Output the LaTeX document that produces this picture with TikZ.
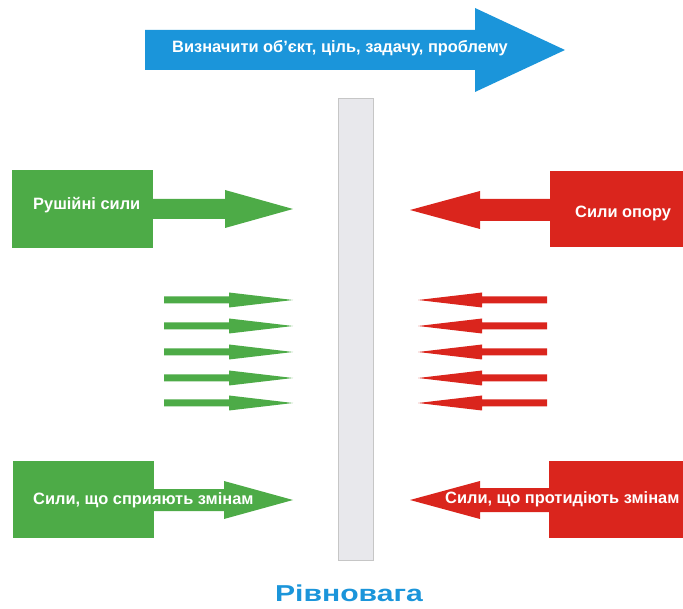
\documentclass[tikz,border=0pt]{standalone}
\usepackage{fontspec}
\setmainfont{Liberation Sans}
\definecolor{goalblue}{HTML}{1B95DA}
\definecolor{drivegreen}{HTML}{4DAB47}
\definecolor{resistred}{HTML}{DA251D}
\definecolor{barfill}{HTML}{E8E8EC}

% arrow: tail x, head base x, tip x, mid y, shaft half, head half, colour
\NewDocumentCommand{\forcearrow}{mmmmmmO{drivegreen}}{%
\fill[#7] (#1,#4-#5) -- (#2,#4-#5) -- (#2,#4-#6) -- (#3,#4)
    -- (#2,#4+#6) -- (#2,#4+#5) -- (#1,#4+#5) -- cycle;%
}
% block behind the arrow tail
\NewDocumentCommand{\forcebox}{mmmmO{drivegreen}}{%
\fill[#5] (#1,#2) rectangle (#3,#4);%
}

\tikzset{
  forcetext/.style={text=white, font=\bfseries\fontsize{16.4}{19}\selectfont,
    inner sep=0pt, anchor=west},
}

\begin{document}
\begin{tikzpicture}[x=1pt, y=-1pt]
        \useasboundingbox (0,0) rectangle (683,609);

        % Goal.
        \forcearrow{145}{475}{565}{50}{20}{42}[goalblue]
        \node[forcetext] (goal) at (172,48) {Визначити об'єкт, ціль, задачу, проблему};

        % Equilibrium bar.
        \filldraw[fill=barfill, draw=gray!45, line width=0.8pt] (338,98) rectangle (373,560);

        % Driving forces.
        \forcebox{12}{170}{153}{248}
        \forcearrow{150}{225}{293}{209}{10}{19}
        \node[forcetext] (driving) at (33,205) {Рушійні сили};

        \forcebox{13}{461}{154}{538}
        \forcearrow{150}{224}{293}{500}{11}{19}
        \node[forcetext] (helping) at (33,500) {Сили, що сприяють змінам};

        % Restraining forces.
        \forcebox{550}{171}{683}{247}[resistred]
        \forcearrow{555}{480}{410}{210}{11}{19}[resistred]
        \node[forcetext] (resisting) at (575,213) {Сили опору};

        \forcebox{549}{461}{683}{538}[resistred]
        \forcearrow{555}{480}{410}{500}{12}{19}[resistred]
        \node[forcetext] (hindering) at (445,499) {Сили, що протидіють змінам};

        % Small forces.
        \foreach \y in {300,326,352,378,403} {
          \forcearrow{164}{229}{293}{\y}{3.5}{7.5}
          \forcearrow{547}{482}{418}{\y}{3.5}{7.5}[resistred]
        }

        % Title.
        \node[text=goalblue, font=\bfseries\fontsize{23}{27}\selectfont, inner sep=0pt]
          (balance) at (349,593) {\scalebox{1.31}[1]{Рівновага}};
\end{tikzpicture}
\end{document}
